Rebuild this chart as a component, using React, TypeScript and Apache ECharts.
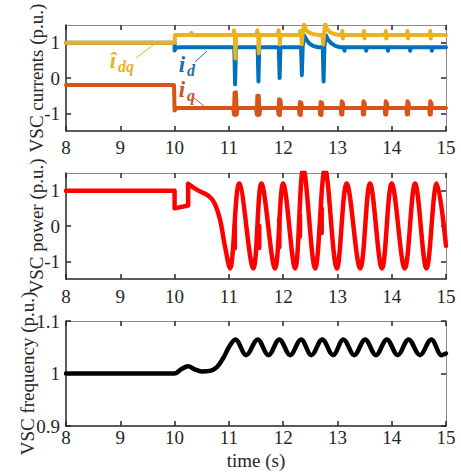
import React, { useEffect, useRef } from "react";
import * as echarts from "echarts";

const FONT = "Liberation Serif";

// ---- axes / ticks ----
const timeTicks = [8, 9, 10, 11, 12, 13, 14, 15];
const currentTicks = [-1, 0, 1];
const powerTicks = [-1, 0, 1];
const freqTicks = [0.9, 1, 1.1];
const currentRange = [-1.5, 1.5];
const powerRange = [-1.5, 1.5];
const freqRange = [0.9, 1.1];

const yLabels = ["VSC currents (p.u.)", "VSC power (p.u.)", "VSC frequency (p.u.)"];
const xLabel = "time (s)";

// ---- panel 1: VSC currents ----
const iD = [
  [8, 1], [10, 1], [10, 0.78], [10.03, 0.86], [10.1, 0.87],
  [11.1, 0.87], [11.115, -0.18], [11.13, 0.87],
  [11.53, 0.87], [11.545, -0.1], [11.56, 0.87],
  [11.92, 0.87], [11.935, 0.0], [11.95, 0.87],
  [12.33, 0.87], [12.345, 0.08], [12.36, 0.9], [12.39, 1.2], [12.43, 1.08], [12.48, 0.98], [12.55, 0.91], [12.64, 0.87],
  [12.73, 0.87], [12.745, -0.1], [12.76, 0.9], [12.79, 1.2], [12.83, 1.08], [12.89, 0.98], [12.96, 0.91], [13.05, 0.87],
  [13.12, 0.87], [13.13, 0.77], [13.14, 0.87],
  [13.52, 0.87], [13.53, 0.77], [13.54, 0.87],
  [13.92, 0.87], [13.93, 0.77], [13.94, 0.87],
  [14.33, 0.87], [14.34, 0.77], [14.35, 0.87],
  [14.73, 0.87], [14.74, 0.77], [14.75, 0.87],
  [15, 0.87],
];

const iQ = [
  [8, -0.2], [9.99, -0.2], [10.0, -0.92], [10.04, -0.85],
  [11.08, -0.85], [11.095, -1.03], [11.105, -0.42], [11.12, -1.05], [11.13, -0.4], [11.145, -1.03], [11.16, -0.85],
  [11.5, -0.85], [11.515, -1.03], [11.525, -0.5], [11.54, -1.05], [11.55, -0.5], [11.565, -1.03], [11.58, -0.85],
  [11.9, -0.85], [11.915, -1.03], [11.925, -0.6], [11.94, -1.05], [11.95, -0.62], [11.965, -0.85],
  [12.29, -0.85], [12.3, -1.03], [12.31, -0.68], [12.325, -1.05], [12.335, -0.7], [12.35, -0.85],
  [12.67, -0.85], [12.68, -1.03], [12.69, -0.68], [12.705, -1.05], [12.715, -0.7], [12.73, -0.85],
  [13.06, -0.85], [13.07, -1.03], [13.08, -0.66], [13.09, -1.03], [13.1, -0.7], [13.11, -0.85],
  [13.46, -0.85], [13.47, -1.03], [13.48, -0.66], [13.49, -1.03], [13.5, -0.7], [13.51, -0.85],
  [13.87, -0.85], [13.88, -1.03], [13.89, -0.66], [13.9, -1.03], [13.91, -0.7], [13.92, -0.85],
  [14.27, -0.85], [14.28, -1.03], [14.29, -0.66], [14.3, -1.03], [14.31, -0.7], [14.32, -0.85],
  [14.69, -0.85], [14.7, -1.03], [14.71, -0.66], [14.72, -1.03], [14.73, -0.7], [14.74, -0.85],
  [15, -0.85],
];

const idqHat = [
  [8, 1], [10, 1], [10.01, 1.22], [10.3, 1.22], [10.31, 1.28], [10.32, 1.22],
  [11.08, 1.22], [11.095, 1.35], [11.11, 1.22], [11.12, 0.55], [11.135, 1.22],
  [11.51, 1.22], [11.525, 1.35], [11.54, 1.22], [11.55, 0.7], [11.565, 1.22],
  [11.9, 1.22], [11.915, 1.35], [11.93, 1.22], [11.94, 0.95], [11.955, 1.22],
  [12.3, 1.22], [12.315, 1.33], [12.33, 1.22], [12.345, 0.95], [12.36, 1.25], [12.385, 1.52], [12.42, 1.36], [12.48, 1.28], [12.56, 1.24], [12.65, 1.22],
  [12.72, 1.22], [12.74, 0.95], [12.755, 1.25], [12.775, 1.52], [12.81, 1.38], [12.87, 1.29], [12.95, 1.24], [13.04, 1.22],
  [13.08, 1.22], [13.09, 1.33], [13.1, 1.12], [13.11, 1.22],
  [13.48, 1.22], [13.49, 1.33], [13.5, 1.12], [13.51, 1.22],
  [13.88, 1.22], [13.89, 1.33], [13.9, 1.12], [13.91, 1.22],
  [14.28, 1.22], [14.29, 1.33], [14.3, 1.12], [14.31, 1.22],
  [14.7, 1.22], [14.71, 1.33], [14.72, 1.12], [14.73, 1.22],
  [15, 1.22],
];

// ---- panel 2: VSC power ----
const powerStep = [
  [8, 1], [10, 1], [10, 0.5], [10.25, 0.58], [10.25, 1.19],
];
const powerWave = [
  [10.25, 1.19], [10.44, 1.0], [10.62, 0.86], [10.74, 0.63], [10.84, 0.16], [10.93, -0.59], [11.02, -1.2],
  [11.19, 1.2], [11.45, -1.2], [11.6, 1.2], [11.85, -1.2], [12.0, 1.2], [12.22, -1.2],
  [12.37, 1.62], [12.59, -1.2], [12.77, 1.62], [12.99, -1.2], [13.17, 1.2], [13.42, -1.2],
  [13.6, 1.2], [13.82, -1.2], [14.0, 1.2], [14.24, -1.2], [14.43, 1.2], [14.64, -1.2],
  [14.83, 1.2], [15, -0.56],
];
// [time, low, high] of the small steps on the rising edges
const powerGlitches = [
  [11.11, -0.63, 0.02],
  [11.56, -0.62, 0.0],
  [11.93, -0.6, 0.2],
  [12.31, -0.3, 0.3],
  [12.71, -0.2, 0.5],
];

// ---- panel 3: VSC frequency ----
const frequency = [
  [8, 1.0], [10.0, 1.0], [10.12, 1.008], [10.25, 1.014], [10.37, 1.008], [10.5, 1.004], [10.65, 1.005],
  [10.78, 1.012], [10.9, 1.03], [11.0, 1.05], [11.12, 1.065],
  [11.32, 1.035], [11.53, 1.065], [11.73, 1.035], [11.93, 1.065], [12.13, 1.035], [12.33, 1.065],
  [12.52, 1.035], [12.72, 1.065], [12.92, 1.035], [13.11, 1.065], [13.31, 1.035], [13.51, 1.065],
  [13.71, 1.035], [13.91, 1.065], [14.11, 1.035], [14.31, 1.065], [14.52, 1.035], [14.73, 1.065],
  [14.92, 1.035], [15, 1.038],
];

const BLUE = "#0072BD";
const ORANGE = "#D95319";
const YELLOW = "#EDB120";
const RED = "#FF0000";
const AXIS = "#262626";
const LBL_BLUE = "#1F6EA6";
const LBL_ORANGE = "#D0521E";

const grids = [
  { left: 66, top: 25, width: 380, height: 106 },
  { left: 66, top: 173, width: 380, height: 106 },
  { left: 66, top: 321, width: 380, height: 105 },
];

function makeOption() {
  const lineStyle = { color: AXIS, width: 1.5 };
  const tickStyle = { color: AXIS, width: 1.5 };
  const labelMargins = [7, 8, 2];
  const nameGaps = [20, 20, 29];
  const xAxis: any[] = [];
  const yAxis: any[] = [];
  const yTickSets = [currentTicks, powerTicks, freqTicks];
  const yRanges = [currentRange, powerRange, freqRange];
  for (let g = 0; g < 3; g++) {
    xAxis.push({
      type: "value",
      gridIndex: g,
      position: "bottom",
      min: timeTicks[0],
      max: timeTicks[timeTicks.length - 1],
      interval: 1,
      axisLine: { onZero: false, lineStyle },
      axisTick: { inside: true, length: 5, lineStyle: tickStyle },
      axisLabel: {
        margin: labelMargins[g],
        color: AXIS,
        fontFamily: FONT,
        fontSize: 19,
        showMinLabel: true,
        showMaxLabel: true,
      },
      splitLine: { show: false },
      name: g === 2 ? xLabel : "",
      nameLocation: "middle",
      nameGap: 25,
      nameMoveOverlap: false,
      nameTextStyle: { color: AXIS, fontFamily: FONT, fontSize: 19 },
    });
    yAxis.push({
      type: "value",
      gridIndex: g,
      position: "left",
      min: yRanges[g][0],
      max: yRanges[g][1],
      axisLine: { onZero: false, lineStyle },
      axisTick: { inside: true, length: 5, lineStyle: tickStyle, customValues: yTickSets[g] },
      axisLabel: {
        margin: 6,
        color: AXIS,
        fontFamily: FONT,
        fontSize: 19,
        customValues: yTickSets[g],
        formatter: (v: number) => String(Math.round(v * 100) / 100),
      },
      splitLine: { show: false },
      name: yLabels[g],
      nameLocation: "middle",
      nameGap: nameGaps[g],
      nameMoveOverlap: false,
      nameTextStyle: { color: AXIS, fontFamily: FONT, fontSize: 19 },
    });
  }
  for (let g = 0; g < 3; g++) {
    xAxis.push({
      type: "value",
      gridIndex: g,
      position: "top",
      min: timeTicks[0],
      max: timeTicks[timeTicks.length - 1],
      interval: 1,
      axisLine: { onZero: false, lineStyle: { color: "#8a8a8a", width: 1 } },
      axisTick: { inside: true, length: 5, lineStyle: tickStyle },
      axisLabel: { show: false },
      splitLine: { show: false },
    });
    yAxis.push({
      type: "value",
      gridIndex: g,
      position: "right",
      min: yRanges[g][0],
      max: yRanges[g][1],
      axisLine: { onZero: false, lineStyle: { color: "#8a8a8a", width: 1 } },
      axisTick: { inside: true, length: 5, lineStyle: tickStyle, customValues: yTickSets[g] },
      axisLabel: { show: false },
      splitLine: { show: false },
    });
  }

  const line = (data: any, g: number, color: string, width: number, smooth: any = false) => ({
    type: "line",
    xAxisIndex: g,
    yAxisIndex: g,
    data,
    smooth,
    symbol: "none",
    lineStyle: { color, width, join: "round", cap: "round" },
    clip: true,
    silent: true,
  });

  const series: any[] = [
    line(iD, 0, BLUE, 4),
    line(iQ, 0, ORANGE, 4),
    line(idqHat, 0, YELLOW, 4),
    line(powerStep, 1, RED, 4.5),
    line(powerWave, 1, RED, 4.5, 0.36),
    ...powerGlitches.map((gl) => line([[gl[0], gl[1]], [gl[0], gl[2]]], 1, RED, 4.5)),
    line(frequency, 2, "#000000", 4.5, 0.36),
  ];

  // (x, baseline y) of the main letter; subscript sits lower and right
  const annot = (x: number, base: number, main: string, sub: string, color: string) => ({
    type: "group",
    children: [
      {
        type: "text",
        x,
        y: base - 8,
        style: {
          text: main,
          fill: color,
          fontFamily: FONT,
          fontSize: 23,
          fontStyle: "italic",
          fontWeight: "bold",
          align: "center",
          verticalAlign: "middle",
        },
      },
      {
        type: "text",
        x: x + 5,
        y: base + 4 - 5.5,
        style: {
          text: sub,
          fill: color,
          fontFamily: FONT,
          fontSize: 16,
          fontStyle: "italic",
          fontWeight: "bold",
          align: "left",
          verticalAlign: "middle",
        },
      },
    ],
  });

  const graphic: any[] = [
    annot(113, 68, "\u00EE", "dq", YELLOW),
    annot(182, 72, "i", "d", LBL_BLUE),
    annot(182, 97, "i", "q", LBL_ORANGE),
    { type: "line", shape: { x1: 136, y1: 58, x2: 153, y2: 45 }, style: { stroke: YELLOW, lineWidth: 1 } },
    { type: "line", shape: { x1: 195, y1: 62, x2: 207, y2: 51 }, style: { stroke: LBL_BLUE, lineWidth: 1 } },
    { type: "line", shape: { x1: 193, y1: 97, x2: 205, y2: 107 }, style: { stroke: LBL_ORANGE, lineWidth: 1 } },
  ];

  return {
    animation: false,
    backgroundColor: "#ffffff",
    grid: grids,
    xAxis,
    yAxis,
    series,
    graphic,
  };
}

export default function App() {
  const ref = useRef<HTMLDivElement>(null);
  useEffect(() => {
    if (!ref.current) return;
    const chart = echarts.init(ref.current, undefined, { renderer: "svg" });
    chart.setOption(makeOption() as any);
    return () => chart.dispose();
  }, []);
  return (
    <div
      ref={ref}
      style={{ position: "fixed", left: 0, top: 0, width: 461, height: 473, background: "#fff" }}
    />
  );
}
